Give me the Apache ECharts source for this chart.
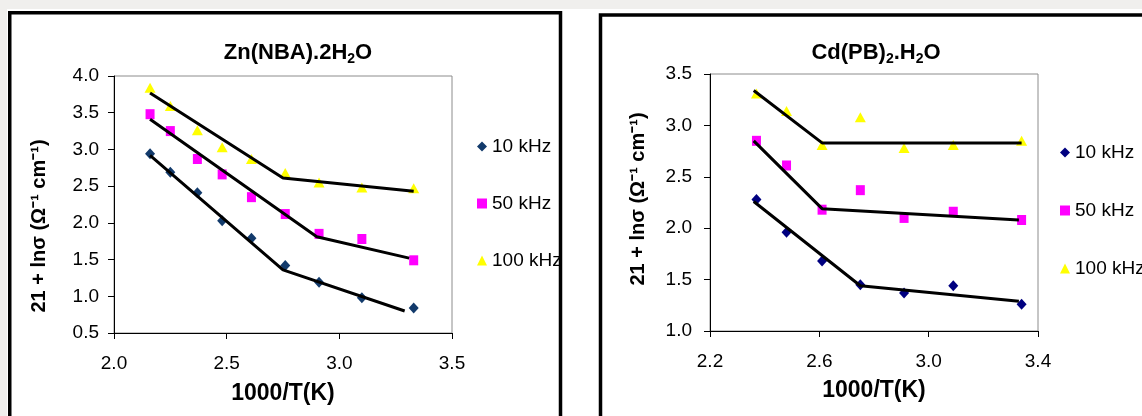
<!DOCTYPE html>
<html>
<head>
<meta charset="utf-8">
<script src="https://cdn.jsdelivr.net/npm/echarts@6/dist/echarts.min.js"></script>
<style>
  html, body { margin: 0; padding: 0; background: #fff; }
  #chart { width: 1142px; height: 416px; }
</style>
</head>
<body>
<div id="chart"></div>
<script>
// ---- data ----
const seriesNames = ['10 kHz', '50 kHz', '100 kHz'];

// Zn(NBA).2H2O
const znX = [2.16, 2.25, 2.37, 2.48, 2.61, 2.76, 2.91, 3.10, 3.33];
const zn10 = [2.94, 2.69, 2.41, 2.03, 1.79, 1.42, 1.19, 0.98, 0.84];
const zn50 = [3.48, 3.25, 2.87, 2.66, 2.35, 2.12, 1.85, 1.78, 1.49];
const zn100 = [3.84, 3.59, 3.26, 3.03, 2.87, 2.68, 2.55, 2.48, 2.47];
const znFit10X = [2.16, 2.75, 3.29], znFit10Y = [2.92, 1.36, 0.80];
const znFit50X = [2.16, 2.90, 3.31], znFit50Y = [3.41, 1.81, 1.52];
const znFit100X = [2.16, 2.75, 3.33], znFit100Y = [3.77, 2.61, 2.43];

// Cd(PB)2.H2O
const cdX = [2.37, 2.48, 2.61, 2.75, 2.91, 3.09, 3.34];
const cd10 = [2.28, 1.96, 1.68, 1.45, 1.37, 1.44, 1.26];
const cd50 = [2.85, 2.61, 2.18, 2.37, 2.10, 2.16, 2.08];
const cd100 = [3.31, 3.14, 2.81, 3.08, 2.78, 2.81, 2.85];
const cdFit10X = [2.36, 2.75, 3.33], cdFit10Y = [2.26, 1.44, 1.29];
const cdFit50X = [2.36, 2.61, 3.33], cdFit50Y = [2.85, 2.19, 2.08];
const cdFit100X = [2.36, 2.61, 3.34], cdFit100Y = [3.34, 2.83, 2.83];

const FONT = "'Liberation Sans', Arial, sans-serif";
const yName = '21 + ln\u03c3 (\u03a9\u207b\u00b9 cm\u207b\u00b9)';

const pts = (xs, ys) => xs.map((x, i) => [x, ys[i]]);

const chart = echarts.init(document.getElementById('chart'));

const axisCommon = {
  axisLine: { lineStyle: { color: '#000', width: 1 } },
  axisTick: { length: 6, lineStyle: { color: '#000' } },
  splitLine: { show: false },
  axisLabel: { color: '#000', fontSize: 19, fontFamily: FONT, formatter: v => v.toFixed(1) }
};

const scatter = (name, data, grid, symbol, size, color) => ({
  name: name, type: 'scatter', xAxisIndex: grid, yAxisIndex: grid,
  data: data, symbol: symbol, symbolSize: size,
  itemStyle: { color: color, opacity: 1 }, z: 2, silent: true
});
const fit = (data, grid) => ({
  type: 'line', xAxisIndex: grid, yAxisIndex: grid, data: data,
  symbol: 'none', lineStyle: { color: '#000', width: 3 }, z: 3, silent: true
});

const legendBase = {
  orient: 'vertical', itemWidth: 10, itemHeight: 10,
  textStyle: { color: '#000', fontSize: 19, fontFamily: FONT },
  selectedMode: false
};

chart.setOption({
  animation: false,
  backgroundColor: '#fff',
  title: [
    {
      text: '{a|Zn(NBA).2H}{b|2}{a|O}', left: 298, top: 40, textAlign: 'center', padding: 0,
      textStyle: { rich: {
        a: { fontSize: 22, fontWeight: 'bold', fontFamily: FONT, color: '#000', lineHeight: 26 },
        b: { fontSize: 14, fontWeight: 'bold', fontFamily: FONT, color: '#000', lineHeight: 14, verticalAlign: 'bottom' }
      } }
    },
    {
      text: '{a|Cd(PB)}{b|2}{a|.H}{b|2}{a|O}', left: 876, top: 40, textAlign: 'center', padding: 0,
      textStyle: { rich: {
        a: { fontSize: 22, fontWeight: 'bold', fontFamily: FONT, color: '#000', lineHeight: 26 },
        b: { fontSize: 14, fontWeight: 'bold', fontFamily: FONT, color: '#000', lineHeight: 14, verticalAlign: 'bottom' }
      } }
    }
  ],
  grid: [
    { left: 114, top: 76, width: 338, height: 257, show: true, borderColor: '#8c8c8c', borderWidth: 1, backgroundColor: 'transparent' },
    { left: 710, top: 74, width: 328, height: 257, show: true, borderColor: '#8c8c8c', borderWidth: 1, backgroundColor: 'transparent' }
  ],
  xAxis: [
    Object.assign({}, axisCommon, {
      gridIndex: 0, type: 'value', min: 2.0, max: 3.5, interval: 0.5,
      axisLabel: Object.assign({}, axisCommon.axisLabel, { margin: 21 }),
      name: '1000/T(K)', nameLocation: 'middle', nameGap: 49,
      nameTextStyle: { color: '#000', fontSize: 23, fontWeight: 'bold', fontFamily: FONT }
    }),
    Object.assign({}, axisCommon, {
      gridIndex: 1, type: 'value', min: 2.2, max: 3.4, interval: 0.4,
      axisLabel: Object.assign({}, axisCommon.axisLabel, { margin: 21 }),
      name: '1000/T(K)', nameLocation: 'middle', nameGap: 48,
      nameTextStyle: { color: '#000', fontSize: 23, fontWeight: 'bold', fontFamily: FONT }
    })
  ],
  yAxis: [
    Object.assign({}, axisCommon, {
      gridIndex: 0, type: 'value', min: 0.5, max: 4.0, interval: 0.5,
      axisLabel: Object.assign({}, axisCommon.axisLabel, { margin: 15 })
    }),
    Object.assign({}, axisCommon, {
      gridIndex: 1, type: 'value', min: 1.0, max: 3.5, interval: 0.5,
      axisLabel: Object.assign({}, axisCommon.axisLabel, { margin: 18 })
    })
  ],
  legend: [
    Object.assign({}, legendBase, {
      left: 472, top: 132, itemGap: 38,
      data: [
        { name: seriesNames[0], icon: 'diamond', itemStyle: { color: '#123a6b' } },
        { name: seriesNames[1], icon: 'rect', itemStyle: { color: '#ff00ff' } },
        { name: seriesNames[2], icon: 'triangle', itemStyle: { color: '#ffff00' } }
      ]
    }),
    Object.assign({}, legendBase, {
      left: 1055, top: 138, itemGap: 39,
      data: [
        { name: seriesNames[0], icon: 'diamond', itemStyle: { color: '#000080' } },
        { name: seriesNames[1], icon: 'rect', itemStyle: { color: '#ff00ff' } },
        { name: seriesNames[2], icon: 'triangle', itemStyle: { color: '#ffff00' } }
      ]
    })
  ],
  graphic: [
    { type: 'rect', shape: { x: 0, y: 0, width: 1142, height: 9 }, style: { fill: '#f0efed' }, silent: true },
    { type: 'rect', shape: { x: 0, y: 0, width: 7, height: 416 }, style: { fill: '#f0efed' }, silent: true },
    { type: 'rect', shape: { x: 9.75, y: 12.75, width: 550.75, height: 430 }, style: { fill: null, stroke: '#000', lineWidth: 3.5 }, silent: true },
    { type: 'rect', shape: { x: 600.5, y: 15, width: 600, height: 430 }, style: { fill: null, stroke: '#000', lineWidth: 3.5 }, silent: true },
    { type: 'text', x: 39, y: 226, rotation: Math.PI / 2,
      style: { text: yName, font: 'bold 20px ' + FONT, fill: '#000', align: 'center', verticalAlign: 'middle' }, silent: true },
    { type: 'text', x: 638, y: 199, rotation: Math.PI / 2,
      style: { text: yName, font: 'bold 20px ' + FONT, fill: '#000', align: 'center', verticalAlign: 'middle' }, silent: true }
  ],
  series: [
    scatter(seriesNames[0], pts(znX, zn10), 0, 'diamond', [10, 11], '#123a6b'),
    scatter(seriesNames[1], pts(znX, zn50), 0, 'rect', [9, 10], '#ff00ff'),
    scatter(seriesNames[2], pts(znX, zn100), 0, 'triangle', [11, 10], '#ffff00'),
    fit(pts(znFit10X, znFit10Y), 0),
    fit(pts(znFit50X, znFit50Y), 0),
    fit(pts(znFit100X, znFit100Y), 0),
    scatter(seriesNames[0], pts(cdX, cd10), 1, 'diamond', [10, 11], '#000080'),
    scatter(seriesNames[1], pts(cdX, cd50), 1, 'rect', [9, 10], '#ff00ff'),
    scatter(seriesNames[2], pts(cdX, cd100), 1, 'triangle', [11, 10], '#ffff00'),
    fit(pts(cdFit10X, cdFit10Y), 1),
    fit(pts(cdFit50X, cdFit50Y), 1),
    fit(pts(cdFit100X, cdFit100Y), 1)
  ]
});
</script>
</body>
</html>
